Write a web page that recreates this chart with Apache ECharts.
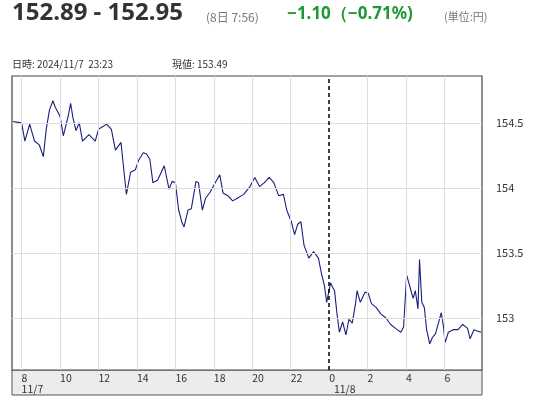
<!DOCTYPE html>
<html><head><meta charset="utf-8">
<script src="https://cdn.jsdelivr.net/npm/echarts@6/dist/echarts.min.js"></script>
<style>html,body{margin:0;padding:0;background:#fff}#c{width:544px;height:400px}</style>
</head><body><div id="c"></div>
<script>
const times = [7.55,8.0,8.17,8.42,8.67,8.92,9.13,9.28,9.45,9.63,9.75,10.0,10.17,10.42,10.55,10.67,10.83,11.0,11.17,11.5,11.83,12.0,12.42,12.67,12.88,13.17,13.33,13.45,13.67,13.92,14.08,14.33,14.5,14.67,14.83,15.08,15.42,15.67,15.83,16.0,16.17,16.33,16.45,16.66,16.83,17.07,17.2,17.4,17.57,17.82,18.07,18.31,18.48,18.73,18.98,19.22,19.55,19.88,20.13,20.38,20.63,20.88,21.12,21.37,21.62,21.79,22.03,22.2,22.36,22.53,22.69,22.94,23.19,23.44,23.6,23.75,23.87,23.95,24.07,24.17,24.28,24.4,24.53,24.7,24.87,25.03,25.2,25.37,25.45,25.62,25.87,26.03,26.2,26.45,26.7,26.95,27.2,27.45,27.73,27.87,28.03,28.2,28.37,28.48,28.62,28.7,28.82,28.95,29.07,29.23,29.37,29.53,29.7,29.83,29.95,30.03,30.2,30.45,30.7,30.95,31.2,31.33,31.53,31.7,31.9];
const prices = [154.51,154.50,154.36,154.49,154.36,154.33,154.24,154.45,154.60,154.67,154.62,154.55,154.40,154.55,154.65,154.54,154.44,154.50,154.36,154.41,154.36,154.45,154.49,154.45,154.29,154.35,154.12,153.95,154.12,154.14,154.21,154.27,154.26,154.22,154.04,154.06,154.17,153.99,154.05,154.04,153.83,153.74,153.70,153.83,153.84,154.05,154.04,153.83,153.92,153.97,154.04,154.10,153.96,153.94,153.90,153.92,153.95,154.01,154.08,154.01,154.04,154.08,154.04,153.94,153.95,153.83,153.74,153.64,153.72,153.74,153.56,153.46,153.51,153.46,153.34,153.25,153.12,153.11,153.27,153.24,153.21,153.04,152.89,152.97,152.87,152.99,152.96,153.11,153.21,153.12,153.20,153.19,153.11,153.08,153.03,153.00,152.95,152.92,152.89,152.93,153.33,153.24,153.15,153.21,153.07,153.45,153.12,153.08,152.91,152.80,152.85,152.88,152.97,153.04,152.93,152.81,152.89,152.91,152.91,152.95,152.92,152.84,152.91,152.90,152.89];
const xGrid = [8,10,12,14,16,18,20,22,26,28,30];
const yGrid = [153,153.5,154,154.5];
const dayLine = 24;

const chart = echarts.init(document.getElementById('c'));
const data = times.map((t,i)=>[t,prices[i]]);
chart.setOption({
  animation:false,
  textStyle:{fontFamily:'"Noto Sans CJK JP","Noto Sans",sans-serif'},
  grid:{left:12,right:62,top:76,bottom:30,show:true,borderColor:'#444',borderWidth:1.2,backgroundColor:'#fff'},
  graphic:[
    {type:'rect',shape:{x:12,y:370,width:470,height:25},style:{fill:'#ececec',stroke:'#555',lineWidth:1},z:-1},
    {type:'text',left:12,top:1,style:{text:'152.89 - 152.95',font:'bold 24px "Noto Sans",sans-serif',fill:'#333'}},
    {type:'text',left:206,top:11,style:{text:'(8日 7:56)',font:'12px "Noto Sans CJK JP",sans-serif',fill:'#777'}},
    {type:'text',left:287,top:6,style:{text:'−1.10（−0.71%)',font:'bold 17px "Noto Sans",sans-serif',fill:'#1c9a35'}},
    {type:'text',left:444,top:11,style:{text:'(単位:円)',font:'11px "Noto Sans CJK JP",sans-serif',fill:'#777'}},
    {type:'text',left:12,top:59,style:{text:'日時: 2024/11/7  23:23',font:'10px "Noto Sans CJK JP",sans-serif',fill:'#333'}},
    {type:'text',left:172,top:59,style:{text:'現値: 153.49',font:'10px "Noto Sans CJK JP",sans-serif',fill:'#333'}}
  ],
  xAxis:{type:'value',min:7.5,max:31.95,interval:0.5,
    axisLine:{show:false},axisTick:{show:false},splitLine:{show:false},
    axisLabel:{margin:3,fontSize:10.5,color:'#333',align:'left',lineHeight:11,
      formatter:v=>{const r=Math.round(v);if(Math.abs(v-r)>1e-6||r%2)return '';const h=r%24;
        if(r===8)return '8\n11/7';if(r===24)return '0\n  11/8';return String(h);}}},
  yAxis:{type:'value',position:'right',min:152.6,max:154.86,interval:0.02,
    axisLine:{show:false},axisTick:{show:false},splitLine:{show:false},
    axisLabel:{margin:14,fontSize:11,color:'#333',
      formatter:v=>{const r=Math.round(v*2)/2;if(Math.abs(v-r)>1e-4)return '';return String(r);}}},
  series:[{type:'line',data:data,showSymbol:false,lineStyle:{color:'#1b1f7e',width:1.1},
    markLine:{silent:true,symbol:'none',label:{show:false},animation:false,
      data:[...xGrid.map(x=>({xAxis:x,lineStyle:{color:'#ddd',width:1,type:'solid'}})),
            ...yGrid.map(y=>({yAxis:y,lineStyle:{color:'#ddd',width:1,type:'solid'}})),
            {xAxis:dayLine,lineStyle:{color:'#000',width:1.5,type:[4,3]}}]}}]
});
</script></body></html>
